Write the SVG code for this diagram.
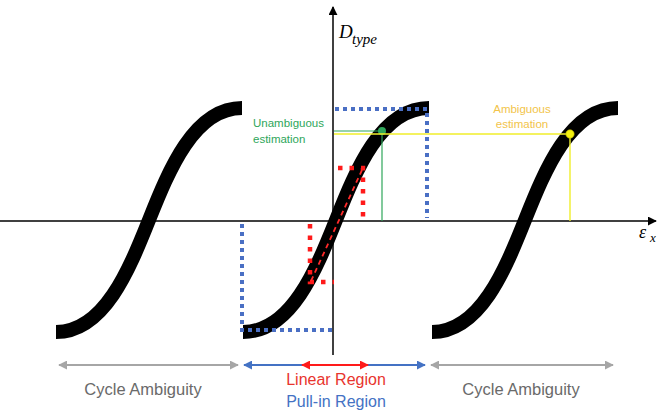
<svg xmlns="http://www.w3.org/2000/svg" width="658" height="412" viewBox="0 0 658 412">
<defs>
<style>
.curve{fill:none;stroke:#000;stroke-width:14;stroke-linecap:butt}
.axis{stroke:#000;stroke-width:1.5;fill:none}
.bdot{fill:none;stroke:#4a6fc4;stroke-width:4;stroke-dasharray:4 4}
.rdot{fill:none;stroke:#ff1a1a;stroke-width:4.5;stroke-dasharray:4.5 7}
.sans{font-family:"Liberation Sans",Arial,sans-serif}
.math{font-family:"Liberation Serif","Times New Roman",serif;font-style:italic}
</style>
<marker id="ah" viewBox="0 0 10 10" refX="9" refY="5" markerWidth="9" markerHeight="9" markerUnits="userSpaceOnUse" orient="auto-start-reverse"><path d="M0,0 L10,5 L0,10 Z" fill="#000"/></marker>
<marker id="ag" viewBox="0 0 10 10" refX="9" refY="5" markerWidth="9" markerHeight="9" markerUnits="userSpaceOnUse" orient="auto-start-reverse"><path d="M0,0 L10,5 L0,10 Z" fill="#a6a6a6"/></marker>
<marker id="ab" viewBox="0 0 10 10" refX="9" refY="5" markerWidth="9" markerHeight="9" markerUnits="userSpaceOnUse" orient="auto-start-reverse"><path d="M0,0 L10,5 L0,10 Z" fill="#4472c4"/></marker>
<marker id="ar" viewBox="0 0 10 10" refX="9" refY="5" markerWidth="9" markerHeight="9" markerUnits="userSpaceOnUse" orient="auto-start-reverse"><path d="M0,0 L10,5 L0,10 Z" fill="#ff1a1a"/></marker>
</defs>
<rect width="658" height="412" fill="#fff"/>

<g id="axes">
<line class="axis" x1="0" y1="221" x2="656" y2="221" marker-end="url(#ah)"/>
<line class="axis" x1="333" y1="355" x2="333" y2="7" marker-end="url(#ah)"/>
<text class="math" x="339" y="38" font-size="19">D</text>
<text class="math" x="352" y="44" font-size="15">type</text>
<text class="math" x="639" y="238" font-size="18">ε</text>
<text class="math" x="650" y="242" font-size="13">x</text>
</g>

<g id="curves">
<path class="curve" d="M56,332 C104,332 129,270 149,220 C169,170 194,108 242,108"/>
<path class="curve" d="M243,332 C291,332 316,270 336,220 C356,170 381,108 429,108"/>
<path class="curve" d="M432,332 C480,332 505,270 525,220 C545,170 570,108 618,108"/>
</g>

<g id="pull-in-box">
<path class="bdot" d="M335,109 L427,109 L427,218"/>
<path class="bdot" d="M242,224 L242,330 L333,330"/>
</g>

<g id="linear-box">
<path class="rdot" d="M338,168 L363,168 L363,218"/>
<path class="rdot" d="M310,224 L310,282 L334,282"/>
<line x1="362" y1="170" x2="311" y2="281" stroke="#ff2a2a" stroke-width="1.8" stroke-dasharray="5 4"/>
</g>

<g id="unambiguous">
<line x1="334" y1="131" x2="382" y2="131" stroke="#2ea65a" stroke-width="1.2"/>
<line x1="382" y1="131" x2="382" y2="221" stroke="#2ea65a" stroke-width="1.2"/>
<circle cx="382" cy="131" r="4" fill="#2ea65a"/>
<text class="sans" x="253" y="127" font-size="11.5" fill="#2ea65a">Unambiguous</text>
<text class="sans" x="253" y="143" font-size="11.5" fill="#2ea65a">estimation</text>
</g>

<g id="ambiguous">
<line x1="334" y1="134" x2="570" y2="134" stroke="#f0ee2a" stroke-width="1.4"/>
<line x1="570" y1="134" x2="570" y2="221" stroke="#f0ee2a" stroke-width="1.4"/>
<circle cx="570" cy="134" r="4.2" fill="#f2ef10" stroke="#b8b000" stroke-width="0.6"/>
<text class="sans" x="522" y="113" font-size="11.5" fill="#f2c44a" text-anchor="middle">Ambiguous</text>
<text class="sans" x="522" y="128" font-size="11.5" fill="#f2c44a" text-anchor="middle">estimation</text>
</g>

<g id="connectors">
<line x1="59" y1="365" x2="238" y2="365" stroke="#a6a6a6" stroke-width="2" marker-start="url(#ag)" marker-end="url(#ag)"/>
<line x1="431" y1="365" x2="613" y2="365" stroke="#a6a6a6" stroke-width="2" marker-start="url(#ag)" marker-end="url(#ag)"/>
<line x1="244" y1="365" x2="425" y2="365" stroke="#4472c4" stroke-width="2" marker-start="url(#ab)" marker-end="url(#ab)"/>
<line x1="302" y1="365" x2="368" y2="365" stroke="#ff1a1a" stroke-width="2.2" marker-start="url(#ar)" marker-end="url(#ar)"/>
</g>

<g id="labels">
<text class="sans" x="143" y="395" font-size="16.5" fill="#6a6a6a" text-anchor="middle">Cycle Ambiguity</text>
<text class="sans" x="521" y="395" font-size="16.5" fill="#6a6a6a" text-anchor="middle">Cycle Ambiguity</text>
<text class="sans" x="336" y="385" font-size="16" fill="#e8352e" text-anchor="middle">Linear Region</text>
<text class="sans" x="336" y="407" font-size="16" fill="#4472c4" text-anchor="middle">Pull-in Region</text>
</g>
</svg>
